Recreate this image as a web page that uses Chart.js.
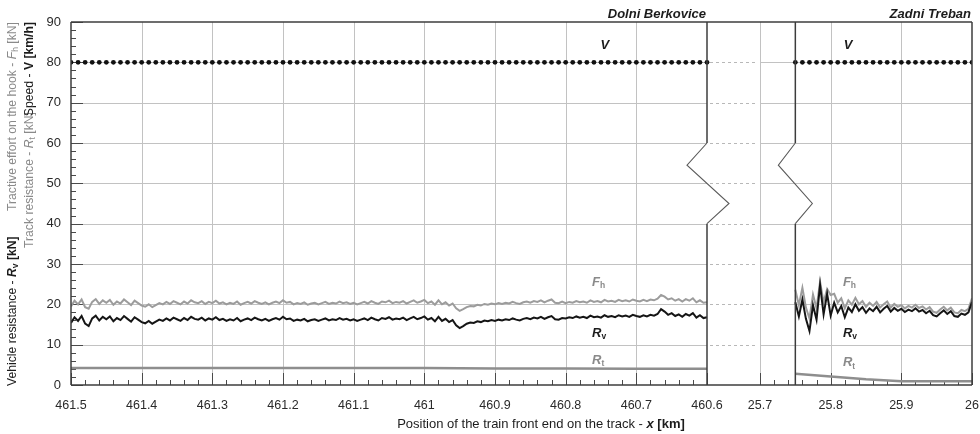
<!DOCTYPE html>
<html><head><meta charset="utf-8">
<script src="https://cdn.jsdelivr.net/npm/chart.js@4/dist/chart.umd.min.js"></script>
<style>html,body{margin:0;padding:0;background:#fff}#wrap{width:980px;height:434px}</style>
</head><body><div id="wrap"><canvas id="c" width="980" height="434"></canvas></div>
<script>
// ---- data (km positions of the two measured sections) ----
const seg1Start = 461.5, seg1End = 460.6;      // Dolni Berkovice section (decreasing km)
const seg2Axis = 25.7, seg2Start = 25.75, seg2End = 26.0; // Zadni Treban section
const sampleStep = 0.005, speedStep = 0.01;

// Vehicle resistance Rv [kN], section 1 (461.5 -> 460.6, every 5 m)
const rv1 = [
 15.4,16.8,15.9,17.1,15.2,14.6,16.5,17.2,16.0,16.9,16.3,17.0,15.8,16.6,16.1,17.1,16.4,15.7,16.8,16.2,
 15.6,15.3,15.9,15.2,15.7,16.2,15.9,16.5,16.0,16.7,16.3,15.9,16.6,16.1,16.9,16.4,16.2,16.7,16.0,16.5,
 16.2,16.8,16.1,16.4,15.9,16.3,16.0,16.6,15.8,16.2,16.5,16.1,16.7,16.3,16.0,16.4,15.9,16.3,16.6,16.2,
 16.9,16.3,16.5,15.9,16.2,16.0,16.4,15.8,16.1,16.3,15.9,16.2,16.5,16.0,16.3,16.1,16.6,16.2,16.4,16.0,
 16.3,15.9,16.2,16.5,16.1,16.7,16.3,16.0,16.6,16.4,16.8,16.2,16.5,16.3,16.7,16.1,16.5,16.9,16.3,16.6,
 17.0,16.2,16.6,15.8,16.9,15.9,16.4,15.6,16.1,14.8,14.1,14.6,15.2,15.5,15.4,15.8,15.6,16.0,15.8,16.1,
 15.9,16.2,16.0,16.3,16.1,16.5,16.2,16.0,16.4,16.6,16.3,16.7,16.5,16.9,16.4,16.8,17.1,16.3,16.2,16.6,
 16.5,16.8,16.6,17.0,16.7,16.9,16.6,17.2,16.8,17.0,16.7,17.3,16.9,17.1,16.8,17.3,17.0,17.2,16.9,17.4,
 17.1,16.9,17.3,17.0,17.4,17.2,17.6,18.8,18.2,17.4,17.8,17.1,17.5,16.9,17.6,17.2,17.8,16.7,17.3,16.6,
 16.8
];
// Tractive effort on the hook Fh [kN], section 1
const fh1 = [
 19.5,20.9,20.0,21.2,19.3,18.9,20.6,21.3,20.1,21.0,20.4,21.1,19.9,20.7,20.2,21.2,20.5,19.8,20.9,20.3,
 19.7,19.4,20.0,19.3,19.8,20.3,20.0,20.6,20.1,20.8,20.4,20.0,20.7,20.2,21.0,20.5,20.3,20.8,20.1,20.6,
 20.3,20.9,20.2,20.5,20.0,20.4,20.1,20.7,19.9,20.3,20.6,20.2,20.8,20.4,20.1,20.5,20.0,20.4,20.7,20.3,
 21.0,20.4,20.6,20.0,20.3,20.1,20.5,19.9,20.2,20.4,20.0,20.3,20.6,20.1,20.4,20.2,20.7,20.3,20.5,20.1,
 20.4,20.0,20.3,20.6,20.2,20.8,20.4,20.1,20.7,20.5,20.9,20.3,20.6,20.4,20.8,20.2,20.6,21.0,20.4,20.7,
 21.1,20.3,20.7,19.9,21.0,20.0,20.5,19.7,20.2,19.0,18.4,18.8,19.3,19.6,19.5,19.9,19.7,20.1,19.9,20.2,
 20.0,20.3,20.1,20.4,20.2,20.6,20.3,20.1,20.5,20.7,20.4,20.8,20.6,21.0,20.5,20.9,21.2,20.4,20.3,20.7,
 20.3,20.6,20.4,20.8,20.5,20.7,20.4,21.0,20.6,20.8,20.5,21.1,20.7,20.9,20.6,21.1,20.8,21.0,20.7,21.2,
 20.9,20.7,21.1,20.8,21.2,21.0,21.4,22.3,21.9,21.2,21.5,20.9,21.3,20.7,21.3,20.9,21.5,20.5,21.0,20.4,
 20.5
];
// Section 2 (25.75 -> 26.0, every 5 m)
const rv2 = [
 20.5,17.0,21.2,16.4,13.4,19.8,16.2,24.8,17.5,22.6,
 17.2,20.4,18.0,19.6,16.8,19.2,18.1,20.0,18.4,19.3,
 17.9,19.0,18.3,19.4,18.0,18.9,19.6,18.2,19.1,18.4,
 18.9,18.1,18.7,18.3,19.0,18.2,18.6,17.8,18.4,17.3,
 17.0,17.8,18.5,17.6,18.3,17.1,16.9,17.7,17.4,18.0,
 20.6
];
const fh2 = [
 23.6,19.8,24.1,19.2,16.5,22.4,19.0,25.6,20.5,23.8,
 22.3,22.6,20.4,21.5,19.0,21.0,19.9,21.6,20.0,20.8,
 19.4,20.4,19.6,20.6,19.2,20.0,20.7,19.2,20.1,19.4,
 19.8,19.0,19.6,19.2,19.9,19.1,19.5,18.7,19.3,18.2,
 17.9,18.7,19.4,18.5,19.2,18.0,17.8,18.6,18.3,18.9,
 21.5
];
// Track resistance Rt [kN]
const rtKm1 = [461.5,461.4,461.3,461.2,461.1,461.0,460.9,460.8,460.7,460.6];
const rt1   = [4.2,4.2,4.2,4.2,4.2,4.2,4.1,4.1,4.0,4.0];
const rtKm2 = [25.75,25.8,25.85,25.9,25.95,26.0];
const rt2   = [2.8,2.1,1.4,0.9,0.9,0.9];
// Speed V [km/h], every 10 m
const v1 = [80,80,80,80,80,80,80,80,80,80,80,80,80,80,80,80,80,80,80,80,80,80,80,80,80,80,80,80,80,80,
 80,80,80,80,80,80,80,80,80,80,80,80,80,80,80,80,80,80,80,80,80,80,80,80,80,80,80,80,80,80,
 80,80,80,80,80,80,80,80,80,80,80,80,80,80,80,80,80,80,80,80,80,80,80,80,80,80,80,80,80,80,80];
const v2 = [80,80,80,80,80,80,80,80,80,80,80,80,80,80,80,80,80,80,80,80,80,80,80,80,80,80];
// x tick positions and labels
const xTickKm = [461.5,461.4,461.3,461.2,461.1,461.0,460.9,460.8,460.7,460.6,25.7,25.8,25.9,26.0];
const xTickLabels = ['461.5','461.4','461.3','461.2','461.1','461','460.9','460.8','460.7','460.6','25.7','25.8','25.9','26'];
const yTicks = [0,10,20,30,40,50,60,70,80,90];

// ---- broken axis mapping ----
const gapWidth = 0.075;
const seg1Len = seg1Start - seg1End;
function toU(km){ return km > 100 ? +(seg1Start - km).toFixed(6) : +(seg1Len + gapWidth + (km - seg2Axis)).toFixed(6); }
const uMax = toU(seg2End);

function series(vals1, step1, vals2, step2){
  const pts = vals1.map((v,i)=>({x: toU(seg1Start - i*step1), y: v}));
  pts.push({x: (seg1Len + toU(seg2Start))/2, y: null});
  vals2.forEach((v,i)=>pts.push({x: toU(seg2Start + i*step2), y: v}));
  return pts;
}
function seriesKm(km1, vals1, km2, vals2){
  const pts = km1.map((k,i)=>({x: toU(k), y: vals1[i]}));
  pts.push({x: (seg1Len + toU(seg2Start))/2, y: null});
  km2.forEach((k,i)=>pts.push({x: toU(k), y: vals2[i]}));
  return pts;
}

const FONT = '"Liberation Sans", Arial, Helvetica, sans-serif';
const BLACK = '#1c1c1c', GREY = '#8a8a8a';

function drawRich(ctx, parts, x, y, align){
  let total = 0;
  parts.forEach(p=>{ ctx.font = p.font; p.w = ctx.measureText(p.text).width; total += p.w; });
  let cx = align === 'right' ? x - total : align === 'center' ? x - total/2 : x;
  ctx.textBaseline = 'middle'; ctx.textAlign = 'left';
  parts.forEach(p=>{ ctx.font = p.font; ctx.fillStyle = p.color; ctx.fillText(p.text, cx, y + (p.dy||0)); cx += p.w; });
}

const framePlugin = {
  id: 'frame',
  beforeDatasetsDraw(chart){
    const ctx = chart.ctx, a = chart.chartArea, X = chart.scales.x, Y = chart.scales.y;
    const gapL = X.getPixelForValue(toU(seg1End)), gapR = X.getPixelForValue(toU(seg2Axis));
    const L = (x1,y1,x2,y2)=>{ ctx.beginPath(); ctx.moveTo(x1,y1); ctx.lineTo(x2,y2); ctx.stroke(); };
    ctx.save();
    ctx.lineWidth = 1; ctx.strokeStyle = '#c2c2c2';
    xTickKm.forEach(km=>{
      const u = toU(km);
      if (u <= 0 || Math.abs(u - seg1Len) < 1e-6 || u >= uMax - 1e-6) return;
      const x = Math.round(X.getPixelForValue(u)) + 0.5; L(x, a.top, x, a.bottom);
    });
    yTicks.forEach(v=>{
      if (v === 0 || v === 90) return;
      const y = Math.round(Y.getPixelForValue(v)) + 0.5;
      L(a.left, y, gapL, y); L(gapR, y, a.right, y);
      ctx.save(); ctx.setLineDash([3,3]); ctx.strokeStyle = '#b8b8b8'; L(gapL + 3, y, gapR - 3, y); ctx.restore();
    });
    // inner ticks
    ctx.strokeStyle = '#4a4a4a'; ctx.lineWidth = 1;
    for (let v = 0; v <= 90; v += 2){
      const y = Math.round(Y.getPixelForValue(v)) + 0.5; L(a.left, y, a.left + (v % 10 === 0 ? 12 : 5), y);
    }
    for (let i = 0; i <= 45; i++){
      const x = Math.round(X.getPixelForValue(toU(seg1Start - i*0.02))) + 0.5; L(x, a.bottom, x, a.bottom - (i % 5 === 0 ? 12 : 5));
    }
    for (let i = 0; i <= 15; i++){
      const x = Math.round(X.getPixelForValue(toU(seg2Axis + i*0.02))) + 0.5; L(x, a.bottom, x, a.bottom - (i % 5 === 0 ? 12 : 5));
    }
    ctx.restore();
  },
  afterDatasetsDraw(chart){
    const ctx = chart.ctx, a = chart.chartArea, X = chart.scales.x, Y = chart.scales.y;
    const L = (x1,y1,x2,y2)=>{ ctx.beginPath(); ctx.moveTo(x1,y1); ctx.lineTo(x2,y2); ctx.stroke(); };
    ctx.save();
    // frame
    ctx.strokeStyle = '#3c3c3c'; ctx.lineWidth = 1.5;
    L(a.left, a.top, a.right, a.top); L(a.left, a.bottom, a.right, a.bottom);
    L(a.left, a.top, a.left, a.bottom); L(a.right, a.top, a.right, a.bottom);
    // break lines with zigzags
    const breakLine = (u, dl, dr)=>{
      const x = X.getPixelForValue(u);
      ctx.strokeStyle = '#3c3c3c'; ctx.lineWidth = 1.5;
      L(x, a.top, x, Y.getPixelForValue(60)); L(x, Y.getPixelForValue(40), x, a.bottom);
      ctx.strokeStyle = '#5a5a5a'; ctx.lineWidth = 1.1;
      ctx.beginPath(); ctx.moveTo(x, Y.getPixelForValue(60)); ctx.lineTo(x - dl, Y.getPixelForValue(54.5));
      ctx.lineTo(x + dr, Y.getPixelForValue(45)); ctx.lineTo(x, Y.getPixelForValue(40)); ctx.stroke();
    };
    breakLine(toU(seg1End), 20, 22);
    breakLine(toU(seg2Start), 17, 17);
    // series labels
    const lab = (km, v, main, sub, color)=>{
      const x = X.getPixelForValue(toU(km)), y = Y.getPixelForValue(v);
      const parts = [{text: main, font: 'italic bold 13px ' + FONT, color}];
      if (sub) parts.push({text: sub, font: 'bold 8.5px ' + FONT, color, dy: 3.5});
      drawRich(ctx, parts, x - 4, y, 'left');
    };
    lab(460.745, 84.3, 'V', null, BLACK); lab(25.824, 84.3, 'V', null, BLACK);
    lab(460.757, 25.5, 'F', 'h', GREY); lab(25.823, 25.5, 'F', 'h', GREY);
    lab(460.757, 12.8, 'R', 'v', BLACK); lab(25.823, 12.8, 'R', 'v', BLACK);
    lab(460.757, 6.2, 'R', 't', GREY); lab(25.823, 5.5, 'R', 't', GREY);
    // station names
    drawRich(ctx, [{text:'Dolni Berkovice', font:'italic bold 13px ' + FONT, color: BLACK}], X.getPixelForValue(toU(seg1End)) - 1, 14, 'right');
    drawRich(ctx, [{text:'Zadni Treban', font:'italic bold 13px ' + FONT, color: BLACK}], a.right - 1, 14, 'right');
    ctx.restore();
  },
  afterDraw(chart){
    const ctx = chart.ctx, a = chart.chartArea, X = chart.scales.x;
    const n = '12.2px ' + FONT, b = 'bold 12.2px ' + FONT, bi = 'italic bold 12.2px ' + FONT, it = 'italic 12.2px ' + FONT, sub = '8.5px ' + FONT, subb = 'bold 8.5px ' + FONT;
    ctx.save();
    // x tick labels
    ctx.font = '12.5px ' + FONT; ctx.fillStyle = '#2a2a2a'; ctx.textAlign = 'center'; ctx.textBaseline = 'middle';
    xTickKm.forEach((k,i)=>{ ctx.fillText(xTickLabels[i], X.getPixelForValue(toU(k)), a.bottom + 21); });
    // x title
    const nx = '13px ' + FONT;
    drawRich(ctx, [
      {text:'Position of the train front end on the track - ', font: nx, color: BLACK},
      {text:'x', font:'italic bold 13px ' + FONT, color: BLACK},
      {text:' [km]', font:'bold 13px ' + FONT, color: BLACK}
    ], 541, 424, 'center');
    // rotated y titles
    const rot = (x, y, parts, align)=>{
      ctx.save(); ctx.translate(x, y); ctx.rotate(-Math.PI/2); drawRich(ctx, parts, 0, 0, align); ctx.restore();
    };
    rot(13, a.bottom + 1, [
      {text:'Vehicle resistance - ', font:n, color:BLACK}, {text:'R', font:bi, color:BLACK},
      {text:'v', font:subb, color:BLACK, dy:3}, {text:' [kN]', font:b, color:BLACK}], 'left');
    rot(13, a.top, [
      {text:'Tractive effort on the hook - ', font:n, color:GREY}, {text:'F', font:it, color:GREY},
      {text:'h', font:sub, color:GREY, dy:3}, {text:' [kN]', font:n, color:GREY}], 'right');
    rot(30, 112, [
      {text:'Track resistance - ', font:n, color:GREY}, {text:'R', font:it, color:GREY},
      {text:'t', font:sub, color:GREY, dy:3}, {text:' [kN]', font:n, color:GREY}], 'right');
    rot(30, a.top, [
      {text:'Speed - ', font:n, color:BLACK}, {text:'V', font:b, color:BLACK},
      {text:' [km/h]', font:b, color:BLACK}], 'right');
    ctx.restore();
  }
};

new Chart(document.getElementById('c'), {
  type: 'line',
  data: {
    datasets: [
      { label: 'V', data: series(v1, speedStep, v2, speedStep), showLine: false, pointRadius: 2.4, pointBackgroundColor: '#111', pointBorderWidth: 0, order: 1 },
      { label: 'Rv', data: series(rv1, sampleStep, rv2, sampleStep), borderColor: '#151515', borderWidth: 2, pointRadius: 0, spanGaps: false, order: 2 },
      { label: 'Fh', data: series(fh1, sampleStep, fh2, sampleStep), borderColor: '#9c9c9c', borderWidth: 2, pointRadius: 0, spanGaps: false, order: 3 },
      { label: 'Rt', data: seriesKm(rtKm1, rt1, rtKm2, rt2), borderColor: '#8e8e8e', borderWidth: 2.5, pointRadius: 0, spanGaps: false, order: 4 }
    ]
  },
  options: {
    responsive: false, animation: false, devicePixelRatio: 1,
    layout: { padding: { left: 0, right: 8, top: 22, bottom: 0 } },
    plugins: { legend: { display: false }, tooltip: { enabled: false } },
    elements: { line: { tension: 0 } },
    scales: {
      x: {
        type: 'linear', min: 0, max: uMax,
        afterBuildTicks: s => { s.ticks = xTickKm.map(k => ({ value: toU(k) })); },
        afterFit: s => { s.height = 49; },
        grid: { display: false, drawTicks: false }, border: { display: false },
        ticks: { display: false }
      },
      y: {
        min: 0, max: 90,
        afterBuildTicks: s => { s.ticks = yTicks.map(v => ({ value: v })); },
        afterFit: s => { s.width = 71; },
        grid: { display: false, drawTicks: false }, border: { display: false },
        ticks: { padding: 10, color: '#2a2a2a', font: { family: FONT, size: 13 } }
      }
    }
  },
  plugins: [framePlugin]
});
</script>
</body></html>
